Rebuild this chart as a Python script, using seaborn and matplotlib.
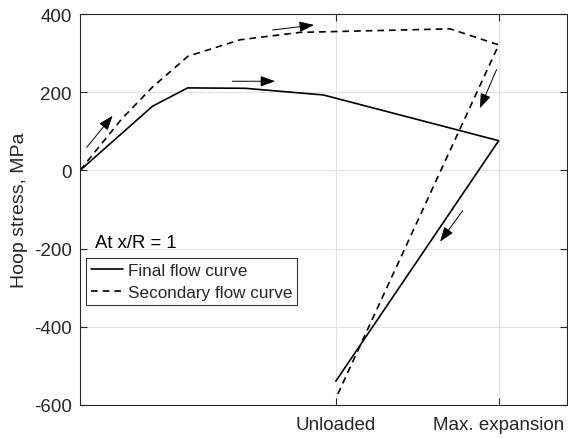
import numpy as np
import pandas as pd
import matplotlib
matplotlib.use("Agg")
import matplotlib.pyplot as plt
import seaborn as sns

# ---- data (x: 0 = start, 1 = max. expansion) ----
final_x = [0.0, 0.173, 0.257, 0.394, 0.581, 1.0, 0.611]
final_y = [0, 164, 211, 210, 193, 76, -539]

secondary_x = [0.0, 0.099, 0.172, 0.258, 0.382, 0.525, 0.884, 1.0, 0.611]
secondary_y = [0, 131, 212, 292, 334, 353, 362, 321, -583]

xtick_pos = [0.611, 1.0]
xtick_labels = ["Unloaded", "Max. expansion"]
ytick_vals = [-600, -400, -200, 0, 200, 400]

# arrows: (x_start, y_start, x_end, y_end)
arrows = [
    (0.016, 59, 0.078, 140),
    (0.364, 228, 0.466, 228),
    (0.460, 359, 0.559, 372),
    (0.995, 258, 0.955, 159),
    (0.914, -103, 0.860, -182),
]

sns.set_theme(style="white")
plt.rcParams["font.family"] = ["Liberation Sans", "DejaVu Sans"]

fig = plt.figure(figsize=(5.68, 4.39), dpi=100)
ax = fig.add_axes([80 / 568, 1 - 406 / 439, 486.7 / 568, 391 / 439])

df_final = pd.DataFrame({"x": final_x, "y": final_y})
df_sec = pd.DataFrame({"x": secondary_x, "y": secondary_y})

sns.lineplot(data=df_final, x="x", y="y", sort=False, estimator=None, ax=ax,
             color="black", lw=1.2, label="Final flow curve")
sns.lineplot(data=df_sec, x="x", y="y", sort=False, estimator=None, ax=ax,
             color="black", lw=1.2, dashes=False, label="Secondary flow curve")
ax.lines[1].set_linestyle((0, (4, 3)))

for xs, ys, xe, ye in arrows:
    ax.annotate("", xy=(xe, ye), xytext=(xs, ys),
                arrowprops=dict(arrowstyle="-|>,head_length=0.75,head_width=0.27",
                                color="black", lw=0.7, shrinkA=0, shrinkB=0))

ax.set_xlim(0, 486.7 / 418.7)
ax.set_ylim(-600, 400)
ax.set_xticks(xtick_pos)
ax.set_xticklabels(xtick_labels)
ax.set_yticks(ytick_vals)
ax.set_yticklabels([str(v) for v in ytick_vals])
ax.set_xlabel("")
ax.set_ylabel("Hoop stress, MPa", fontsize=14, color="#262626")
ax.yaxis.set_label_coords(-0.107, 0.5)

ax.grid(True, color="#e3e3e3", lw=0.8)
ax.set_axisbelow(True)
for s in ax.spines.values():
    s.set_color("#262626")
    s.set_linewidth(0.8)
ax.tick_params(direction="in", length=5, width=0.8, color="#262626",
               labelcolor="#262626", labelsize=13.5, top=True, right=True,
               left=True, bottom=True)
ax.tick_params(axis="y", pad=6)
ax.tick_params(axis="x", pad=8)

ax.text(15 / 486.7, (406 - 248) / 391, "At x/R = 1", transform=ax.transAxes,
        fontsize=13.3, color="black", ha="left", va="baseline")

leg = ax.legend(loc="upper left", bbox_to_anchor=(6 / 486.7, (406 - 259.3) / 391),
                borderaxespad=0, fontsize=12.3, frameon=True, fancybox=False,
                handlelength=1.85, handletextpad=0.3, borderpad=0.3,
                labelspacing=0.4, edgecolor="black")
leg.get_frame().set_linewidth(0.8)

fig.savefig("out.png", dpi=100)
